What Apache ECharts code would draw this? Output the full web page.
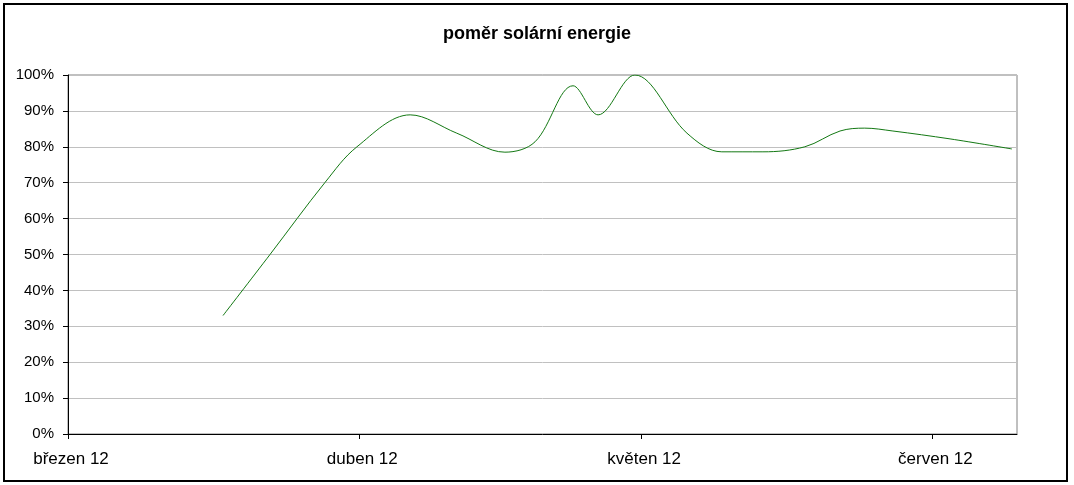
<!DOCTYPE html>
<html>
<head>
<meta charset="utf-8">
<script src="https://cdn.jsdelivr.net/npm/echarts@6/dist/echarts.min.js"></script>
<style>
html,body{margin:0;padding:0;background:#fff;}
#wrap{position:relative;width:1074px;height:485px;}
#chart{position:absolute;left:0;top:0;width:1074px;height:485px;}
#frame{position:absolute;left:3px;top:3px;width:1061px;height:475px;border:2px solid #000;pointer-events:none;}
</style>
</head>
<body>
<div id="wrap"><div id="chart"></div><div id="frame"></div></div>
<script>
const titleText = 'poměr solární energie';
const monthNames = ['leden','únor','březen','duben','květen','červen','červenec','srpen','září','říjen','listopad','prosinec'];
const tickDates = ['2012-03-01','2012-04-01','2012-05-01','2012-06-01'];
const axisMin = '2012-03-01';
const axisMax = '2012-06-10';
const dates = [
  '2012-03-17 12:00','2012-03-22 12:00','2012-03-28 08:00','2012-03-31 18:00',
  '2012-04-06 10:00','2012-04-11 09:00','2012-04-16 12:00','2012-04-19 17:00',
  '2012-04-23 18:00','2012-04-26 10:00','2012-04-30 08:00','2012-05-05 21:00',
  '2012-05-09 14:00','2012-05-13 23:00','2012-05-18 10:00','2012-05-22 04:00',
  '2012-05-24 19:00','2012-05-27 19:00','2012-06-02 21:00','2012-06-09 11:00'
];
const values = [
  33, 50, 70, 80,
  88.9, 83.8, 78.5, 81.4,
  97, 88.9, 100, 83.8,
  78.6, 78.6, 80, 84.4,
  85.2, 84.4, 82.2, 79.4
];
const yTicks = [0,10,20,30,40,50,60,70,80,90,100];

function ts(s){
  const parts = s.split(' ');
  const p = parts[0].split('-').map(Number);
  let h = 0, m = 0;
  if (parts[1]) { const t = parts[1].split(':').map(Number); h = t[0]; m = t[1]; }
  return new Date(p[0], p[1]-1, p[2], h, m).getTime();
}

const font = '"Liberation Sans", Arial, sans-serif';
const chart = echarts.init(document.getElementById('chart'));
const tickVals = tickDates.map(ts);
chart.setOption({
  animation: false,
  backgroundColor: '#fff',
  title: {
    text: titleText, left: 'center', top: 20,
    textStyle: {fontFamily: font, fontSize: 18, fontWeight: 'bold', color: '#000'}
  },
  grid: {left: 68, right: 57, top: 75, bottom: 51, show: true, borderColor: '#808080', borderWidth: 1, backgroundColor: 'transparent'},
  xAxis: {
    type: 'value',
    min: ts(axisMin), max: ts(axisMax),
    axisLine: {show: true, lineStyle: {color: '#000', width: 1}},
    axisTick: {show: true, length: 5, lineStyle: {color: '#000'}, customValues: tickVals},
    axisLabel: {
      customValues: tickVals, margin: 17, color: '#000',
      fontFamily: font, fontSize: 17, padding: [0, 0, 0, 6],
      formatter: function(v){ const d = new Date(v); return monthNames[d.getMonth()] + ' ' + String(d.getFullYear()).slice(2); }
    },
    splitLine: {show: false}
  },
  yAxis: {
    type: 'value', min: yTicks[0], max: yTicks[yTicks.length-1], interval: 10,
    axisLine: {show: true, lineStyle: {color: '#000', width: 1}},
    axisTick: {show: true, length: 5, lineStyle: {color: '#000'}},
    axisLabel: {margin: 14, color: '#000', fontFamily: font, fontSize: 15, formatter: '{value}%'},
    splitLine: {show: true, lineStyle: {color: '#c0c0c0', width: 1}}
  },
  series: [{
    type: 'line',
    data: dates.map((d, i) => [ts(d), values[i]]),
    showSymbol: false,
    smooth: 0.35,
    lineStyle: {color: '#137813', width: 1},
    itemStyle: {color: '#137813'}
  }]
});
</script>
</body>
</html>
